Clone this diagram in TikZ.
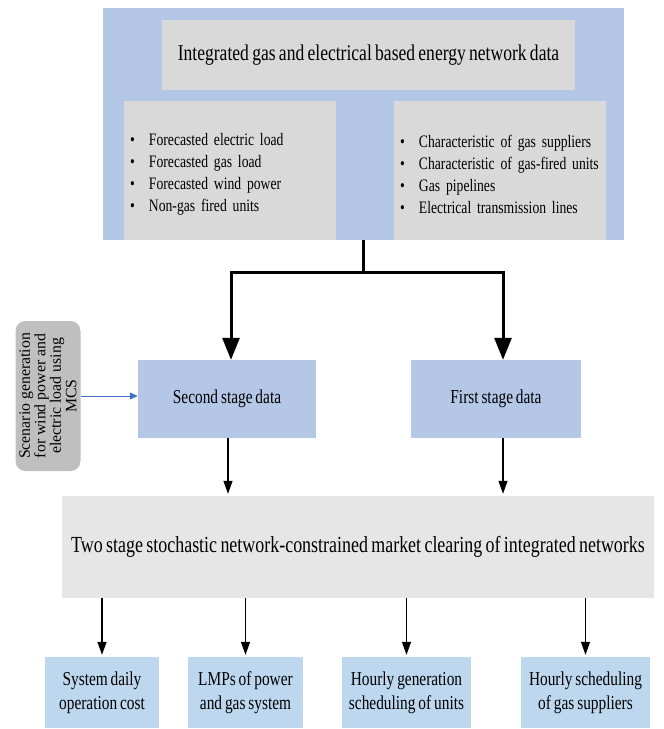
\documentclass[tikz,border=0pt]{standalone}
\usepackage{fontspec}
\setmainfont{Liberation Serif}[FakeStretch=0.78,WordSpace=0.75]
\newfontfamily\scenfont{Liberation Serif}
\usetikzlibrary{arrows.meta}
\definecolor{netblue}{HTML}{B4C7E7}
\definecolor{datagray}{HTML}{D9D9D9}
\definecolor{mcgray}{HTML}{E7E6E6}
\definecolor{outblue}{HTML}{BDD7EE}
\definecolor{scengray}{HTML}{BFBFBF}
\definecolor{linkblue}{HTML}{4472C4}
\newcommand{\itm}{\makebox[19pt][l]{\textbullet}}

\begin{document}
\begin{tikzpicture}[x=1pt,y=-1pt,
	box/.style = {inner sep=0pt, align=center},
	list/.style = {box, fill=datagray, minimum width=212pt, minimum height=139pt, text width=200pt, align=left, font=\fontsize{17.5}{22}\selectfont},
	result/.style = {box, fill=outblue, minimum height=71pt, font=\fontsize{19.7}{24}\selectfont},
	bigarrow/.style = {line width=3pt, -{Triangle[length=22pt,width=17pt]}},
	smallarrow/.style = {line width=1.3pt, -{Triangle[length=13pt,width=9pt]}, shorten >=2pt}]
	\useasboundingbox (0,0) rectangle (664,729);
	\begin{scope}[every node/.style={box}]
		\node[fill=netblue, minimum width=521pt, minimum height=232pt] (data) at (363.5,124) {};
		\node[fill=datagray, minimum width=413pt, minimum height=70pt, font=\fontsize{22.5}{26}\selectfont] (title) at (368.5,55) {Integrated gas and electrical based energy network data};
		\node[list] (elec) at (230,170.5) {\rule{0pt}{20pt}\itm Forecasted electric load\\ \itm Forecasted gas load\\ \itm Forecasted wind power\\ \itm Non-gas fired units};
		\node[list] (gas) at (500,170.5) {\rule{0pt}{20pt}\itm Characteristic of gas suppliers\\ \itm Characteristic of gas-fired units\\ \itm Gas pipelines\\ \itm Electrical transmission lines};
		\node[fill=netblue, minimum width=178pt, minimum height=78pt, font=\fontsize{19.7}{23}\selectfont] (second) at (227,399) {Second stage data};
		\node[fill=netblue, minimum width=170pt, minimum height=78pt, font=\fontsize{19.7}{23}\selectfont] (first) at (496,399) {First stage data};
		\node[fill=scengray, rounded corners=10pt, rotate=90, minimum width=150pt, minimum height=65pt, font=\scenfont\fontsize{15.8}{15.5}\selectfont] (scen) at (48,396) {Scenario generation\\for wind power and\\electric load using\\MCS};
		\node[fill=mcgray, minimum width=592pt, minimum height=102pt, font=\fontsize{23}{27}\selectfont] (clearing) at (358,547) {Two stage stochastic network-constrained market clearing of integrated networks};
		\node[result, minimum width=114pt] (cost) at (102,692.5) {System daily\\operation cost};
		\node[result, minimum width=115pt] (lmp) at (245.5,692.5) {LMPs of power\\and gas system};
		\node[result, minimum width=129pt] (gen) at (406.5,692.5) {Hourly generation\\scheduling of units};
		\node[result, minimum width=129pt] (sup) at (585.5,692.5) {Hourly scheduling\\of gas suppliers};
	\end{scope}
	\coordinate (split) at (363.5,272);
	\draw [line width=3pt] (data.south) -- (split);
	\draw [bigarrow] (split) -| ([xshift=4pt]second.north);
	\draw [bigarrow] (split) -| ([xshift=7pt]first.north);
	\draw [line width=1pt, linkblue, -{Triangle[length=8pt,width=7pt]}] (scen.south) -- (scen.south -| second.west);
	\draw [smallarrow] ([xshift=1pt]second.south) -- ([xshift=1pt]second.south |- clearing.north);
	\draw [smallarrow] ([xshift=7pt]first.south) -- ([xshift=7pt]first.south |- clearing.north);
	\draw [smallarrow] (clearing.south -| cost.north) -- (cost.north);
	\draw [smallarrow] (clearing.south -| lmp.north) -- (lmp.north);
	\draw [smallarrow] (clearing.south -| gen.north) -- (gen.north);
	\draw [smallarrow] (clearing.south -| sup.north) -- (sup.north);
\end{tikzpicture}
\end{document}
